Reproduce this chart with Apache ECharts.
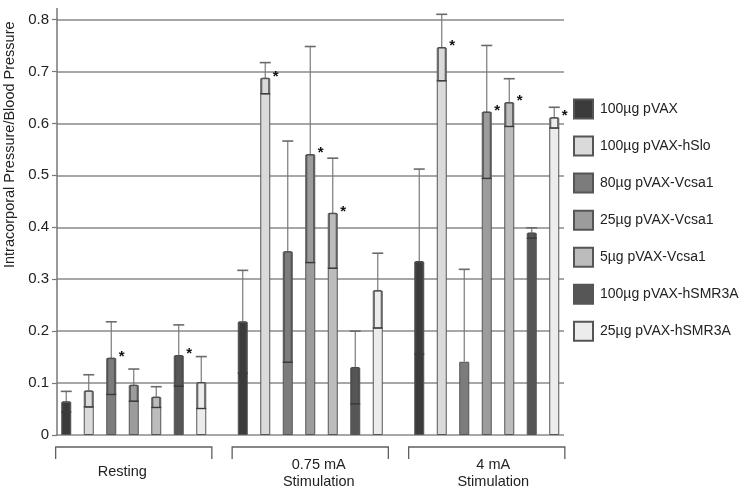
<!DOCTYPE html>
<html>
<head>
<meta charset="utf-8">
<script src="https://cdn.jsdelivr.net/npm/echarts@6/dist/echarts.min.js"></script>
<style>
html,body{margin:0;padding:0;background:#fff;}
#c{width:752px;height:495px;}
</style>
</head>
<body>
<div id="c"></div>
<script>
// ---- data ----
const categories = ['Resting', '0.75 mA\nStimulation', '4 mA\nStimulation'];
const seriesNames = ['100\u00b5g pVAX', '100\u00b5g pVAX-hSlo', '80\u00b5g pVAX-Vcsa1', '25\u00b5g pVAX-Vcsa1', '5\u00b5g pVAX-Vcsa1', '100\u00b5g pVAX-hSMR3A', '25\u00b5g pVAX-hSMR3A'];
const pVAX100  = [0.064, 0.218, 0.334];
const hSlo100  = [0.085, 0.687, 0.746];
const vcsa80   = [0.148, 0.353, 0.141];
const vcsa25   = [0.096, 0.540, 0.622];
const vcsa5    = [0.073, 0.427, 0.640];
const hsmr100  = [0.153, 0.130, 0.389];
const hsmr25   = [0.101, 0.278, 0.611];
const sdPVAX100 = [0.020, 0.099, 0.178];
const sdHSlo100 = [0.031, 0.030, 0.064];
const sdVcsa80  = [0.070, 0.213, 0.178];
const sdVcsa25  = [0.031, 0.208, 0.128];
const sdVcsa5   = [0.020, 0.106, 0.046];
const sdHsmr100 = [0.059, 0.070, 0.010];
const sdHsmr25  = [0.050, 0.072, 0.020];
const starPVAX100 = [0, 0, 0];
const starHSlo100 = [0, 1, 1];
const starVcsa80  = [1, 0, 0];
const starVcsa25  = [0, 1, 1];
const starVcsa5   = [0, 1, 1];
const starHsmr100 = [1, 0, 0];
const starHsmr25  = [0, 0, 1];
const yTicks = [0, 0.1, 0.2, 0.3, 0.4, 0.5, 0.6, 0.7, 0.8];

// ---- styling ----
const colors = ['#3b3b3b', '#dadada', '#7c7c7c', '#9c9c9c', '#bcbcbc', '#565656', '#ececec'];
const means = [pVAX100, hSlo100, vcsa80, vcsa25, vcsa5, hsmr100, hsmr25];
const sds = [sdPVAX100, sdHSlo100, sdVcsa80, sdVcsa25, sdVcsa5, sdHsmr100, sdHsmr25];
const stars = [starPVAX100, starHSlo100, starVcsa80, starVcsa25, starVcsa5, starHsmr100, starHsmr25];
const BAR_W = 10, GAP_RATIO = 1.25;
const FONT = 'Liberation Sans, Arial, sans-serif';

const chart = echarts.init(document.getElementById('c'), null, {renderer: 'canvas'});

const barSeries = seriesNames.map((n, i) => ({
  name: n, type: 'bar', xAxisIndex: 1, yAxisIndex: 1,
  data: means[i], barWidth: BAR_W, barGap: (GAP_RATIO * 100) + '%',
  itemStyle: {color: colors[i], borderColor: '#555555', borderWidth: 1},
  silent: true
}));

const errData = [];
seriesNames.forEach((n, s) => {
  categories.forEach((c, ci) => {
    errData.push([ci, s, means[s][ci], sds[s][ci], stars[s][ci]]);
  });
});

function renderErr(params, api) {
  const c = api.value(0), s = api.value(1), m = api.value(2), sd = api.value(3), st = api.value(4);
  const slot = BAR_W * (1 + GAP_RATIO);
  const base = api.coord([c, m]);
  const x = base[0] + (s - (seriesNames.length - 1) / 2) * slot;
  const yM = base[1];
  const yTop = api.coord([c, m + sd])[1];
  const children = [
    {type: 'line', shape: {x1: x, y1: yM, x2: x, y2: yTop}, style: {stroke: '#7a7a7a', lineWidth: 1.2}},
    {type: 'line', shape: {x1: x - 5.5, y1: yTop, x2: x + 5.5, y2: yTop}, style: {stroke: '#6a6a6a', lineWidth: 1.6}}
  ];
  const lo = m - sd;
  if (lo > 0) {
    const yLo = api.coord([c, lo])[1];
    children.push({type: 'rect', shape: {x: x - BAR_W / 2 + 1.5, y: yM, width: BAR_W - 3, height: yLo - yM},
      style: {fill: 'none', stroke: '#4a4a4a', lineWidth: 1}});
    children.push({type: 'line', shape: {x1: x - BAR_W / 2, y1: yLo, x2: x + BAR_W / 2, y2: yLo},
      style: {stroke: '#3a3a3a', lineWidth: 1.4}});
  }
  if (st) {
    children.push({type: 'text', x: x + BAR_W / 2 + 5.5, y: yM - 9,
      style: {text: '*', fill: '#111', font: 'bold 15px ' + FONT, align: 'center', verticalAlign: 'top'}});
  }
  return {type: 'group', children: children};
}

function renderBracket(params, api) {
  const p = api.coord([api.value(0), 0]);
  const w = api.size([1, 0])[0] * 0.885;
  return {type: 'polyline', shape: {points: [[p[0] - w / 2, p[1] + 24], [p[0] - w / 2, p[1] + 12], [p[0] + w / 2, p[1] + 12], [p[0] + w / 2, p[1] + 24]]},
    style: {fill: 'none', stroke: '#606060', lineWidth: 1.3}};
}

const labelStyles = [
  {padding: [7, 23, 0, 0]},
  {padding: [0, 0, 0, 17]},
  {padding: [0, 0, 0, 13]}
];

const option = {
  animation: false,
  backgroundColor: '#ffffff',
  textStyle: {fontFamily: FONT},
  grid: [
    {left: 57, right: 188, top: 19.5, bottom: 60, outerBoundsMode: 'none', containLabel: false},
    {left: 45.5, right: 177, top: 19.5, bottom: 60, outerBoundsMode: 'none', containLabel: false}
  ],
  xAxis: [
    {gridIndex: 0, type: 'value', min: 0, max: 1, show: false},
    {gridIndex: 1, type: 'category',
      data: categories.map((c, i) => ({value: c, textStyle: labelStyles[i]})),
      axisLine: {show: false}, axisTick: {show: false}, splitLine: {show: false},
      axisLabel: {margin: 21, verticalAlign: 'top', fontSize: 14.5, lineHeight: 17, color: '#222', fontFamily: FONT, interval: 0}}
  ],
  yAxis: [
    {gridIndex: 0, type: 'value', min: yTicks[0], max: yTicks[yTicks.length - 1], interval: 0.1,
      name: 'Intracorporal Pressure/Blood Pressure', nameLocation: 'middle', nameGap: 32,
      nameTextStyle: {fontSize: 14.5, color: '#222', fontFamily: FONT, padding: [0, 0, 0, 165]},
      axisLine: {show: true, lineStyle: {color: '#777', width: 1.5}},
      axisTick: {show: true, length: 5, lineStyle: {color: '#777', width: 1.2}},
      axisLabel: {fontSize: 15, color: '#222', margin: 8, fontFamily: FONT,
        formatter: v => (v === 0 ? '0' : v.toFixed(1))},
      splitLine: {show: true, lineStyle: {color: '#8a8a8a', width: 1.5}}},
    {gridIndex: 1, type: 'value', min: yTicks[0], max: yTicks[yTicks.length - 1], show: false, splitLine: {show: false}}
  ],
  legend: {
    orient: 'vertical', left: 573, top: 98.5, padding: 0,
    itemWidth: 19, itemHeight: 19, itemGap: 16.05, icon: 'rect',
    data: seriesNames,
    textStyle: {fontSize: 14, lineHeight: 19, color: '#222', fontFamily: FONT, padding: [0, 0, 0, 2]},
    selectedMode: false
  },
  graphic: [
    {type: 'line', shape: {x1: 57, y1: 8, x2: 57, y2: 20}, style: {stroke: '#777', lineWidth: 1.5}}
  ],
  series: barSeries.concat([
    {type: 'custom', xAxisIndex: 1, yAxisIndex: 1, data: errData, encode: {x: 0, y: 2},
      renderItem: renderErr, z: 5, silent: true},
    {type: 'custom', xAxisIndex: 1, yAxisIndex: 1, data: [[0, 0], [1, 0], [2, 0]], encode: {x: 0, y: 1},
      renderItem: renderBracket, z: 5, silent: true, clip: false}
  ])
};
chart.setOption(option);
</script>
</body>
</html>
